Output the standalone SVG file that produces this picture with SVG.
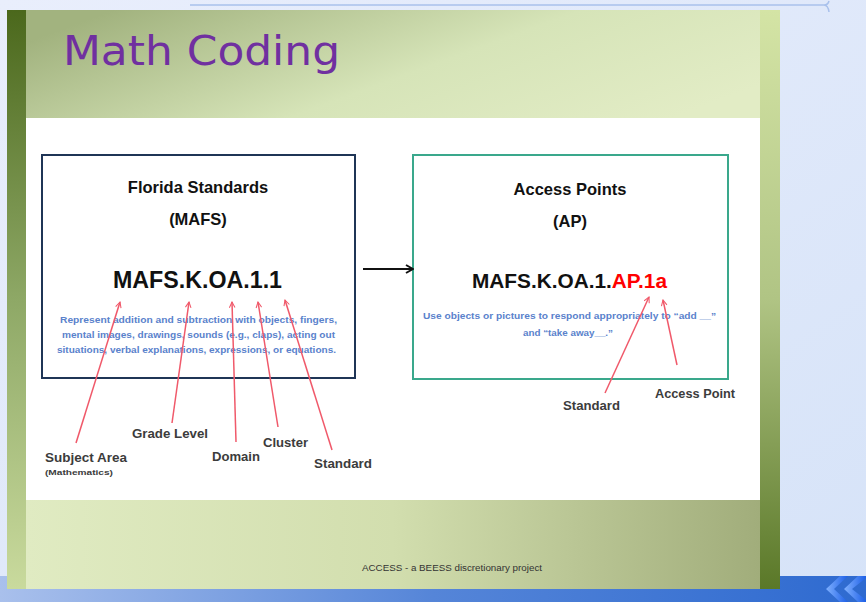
<svg xmlns="http://www.w3.org/2000/svg" width="866" height="602" viewBox="0 0 866 602">
<style>
.h{font-family:"Liberation Sans",Arial,sans-serif;font-weight:bold;fill:#111;text-anchor:middle}
.code{font-family:"Liberation Sans",Arial,sans-serif;font-weight:bold;fill:#111}
.desc{font-family:"Liberation Sans",Arial,sans-serif;font-size:9.5px;font-weight:bold;fill:#5a82cc;text-anchor:middle}
.lbl{font-family:"Liberation Sans",Arial,sans-serif;font-weight:bold;font-size:12px;fill:#3c3c3c}
.red{stroke:#f0596a;stroke-width:1.5;fill:none;marker-end:url(#rh)}
</style>
<defs>
<linearGradient id="bg" x1="0" y1="0" x2="1" y2="1">
<stop offset="0" stop-color="#e9eefc"/><stop offset="1" stop-color="#d6e3f8"/>
</linearGradient>
<linearGradient id="titleG" x1="0" y1="0.3" x2="1" y2="0.7">
<stop offset="0" stop-color="#a2b37f"/><stop offset="0.55" stop-color="#d6e4b8"/><stop offset="1" stop-color="#e2ecc5"/>
</linearGradient>
<linearGradient id="footG" x1="0" y1="0" x2="1" y2="0">
<stop offset="0" stop-color="#e0ebc2"/><stop offset="0.5" stop-color="#d2deae"/><stop offset="1" stop-color="#a1ad7b"/>
</linearGradient>
<linearGradient id="lbar" x1="0" y1="0" x2="0" y2="1">
<stop offset="0" stop-color="#4b681c"/><stop offset="0.5" stop-color="#8ea866"/><stop offset="1" stop-color="#c9da9d"/>
</linearGradient>
<linearGradient id="rbar" x1="0" y1="0" x2="0" y2="1">
<stop offset="0" stop-color="#d4e4a5"/><stop offset="0.5" stop-color="#b0c484"/><stop offset="1" stop-color="#5a7828"/>
</linearGradient>
<linearGradient id="blueG" x1="0" y1="0" x2="1" y2="0">
<stop offset="0" stop-color="#a9c0ec"/><stop offset="0.5" stop-color="#5585d8"/><stop offset="1" stop-color="#2e6ad0"/>
</linearGradient>
<linearGradient id="chev" x1="0" y1="0" x2="1" y2="0">
<stop offset="0" stop-color="#7fb0ff"/><stop offset="1" stop-color="#1d5fe6"/>
</linearGradient>
<marker id="rh" viewBox="0 0 10 10" refX="9" refY="5" markerWidth="7" markerHeight="7" orient="auto" markerUnits="userSpaceOnUse">
<path d="M1,1 L9,5 L1,9" fill="none" stroke="#f0596a" stroke-width="1.5"/>
</marker>
<marker id="bh" viewBox="0 0 10 10" refX="9" refY="5" markerWidth="10" markerHeight="10" orient="auto" markerUnits="userSpaceOnUse">
<path d="M2,1 L9,5 L2,9" fill="none" stroke="#111" stroke-width="2"/>
</marker>
</defs>

<g id="background">
<rect x="0" y="0" width="866" height="602" fill="url(#bg)"/>
<path d="M190,5 H824 Q828,5 829,1 M824,5 Q828,5 829,12" fill="none" stroke="#a9c1ec" stroke-width="1.5"/>
<rect x="0" y="576" width="866" height="26" fill="url(#blueG)"/>
<path d="M840,576 L826,589 L840,602 L848,602 L834,589 L848,576 Z" fill="url(#chev)"/>
<path d="M858,576 L844,589 L858,602 L866,602 L866,600 L852,589 L866,578 L866,576 Z" fill="url(#chev)"/>
</g>

<g id="slide">
<rect x="7" y="10" width="773" height="579" fill="#ffffff"/>
<rect x="26" y="10" width="734" height="108" fill="url(#titleG)"/>
<rect x="26" y="500" width="734" height="89" fill="url(#footG)"/>
<rect x="7" y="10" width="19" height="579" fill="url(#lbar)"/>
<rect x="760" y="10" width="20" height="579" fill="url(#rbar)"/>
<text x="63" y="65" font-family="'DejaVu Sans','Liberation Sans',sans-serif" font-size="40" fill="#7030a0" textLength="277" lengthAdjust="spacingAndGlyphs">Math Coding</text>
<text x="452" y="571" font-family="'Liberation Sans',Arial,sans-serif" font-size="8.5" fill="#333" text-anchor="middle" textLength="180" lengthAdjust="spacingAndGlyphs">ACCESS - a BEESS discretionary project</text>
</g>

<g id="mafs-box">
<rect x="42" y="155" width="313" height="223" fill="#ffffff" stroke="#1f3556" stroke-width="2"/>
<text class="h" x="198" y="193" font-size="16.5">Florida Standards</text>
<text class="h" x="198" y="225" font-size="16.5">(MAFS)</text>
<text class="code" x="113" y="288" font-size="23" textLength="169" lengthAdjust="spacingAndGlyphs">MAFS.K.OA.1.1</text>
<text class="desc" x="198.5" y="323" textLength="277" lengthAdjust="spacingAndGlyphs">Represent addition and subtraction with objects, fingers,</text>
<text class="desc" x="198.5" y="338" textLength="273" lengthAdjust="spacingAndGlyphs">mental images, drawings, sounds (e.g., claps), acting out</text>
<text class="desc" x="196.5" y="353" textLength="279" lengthAdjust="spacingAndGlyphs">situations, verbal explanations, expressions, or equations.</text>
</g>

<g id="ap-box">
<rect x="413" y="155" width="315" height="224" fill="#ffffff" stroke="#3aa88c" stroke-width="2"/>
<text class="h" x="570" y="195" font-size="16.5">Access Points</text>
<text class="h" x="570" y="227" font-size="16.5">(AP)</text>
<text class="code" x="472" y="288" font-size="21" textLength="195" lengthAdjust="spacingAndGlyphs">MAFS.K.OA.1.<tspan fill="#ff0000">AP.1a</tspan></text>
<text class="desc" x="569.5" y="319" textLength="293" lengthAdjust="spacingAndGlyphs">Use objects or pictures to respond appropriately to “add __”</text>
<text class="desc" x="568" y="336" textLength="90" lengthAdjust="spacingAndGlyphs">and “take away__.”</text>
</g>

<g id="labels">
<text class="lbl" x="45" y="462" textLength="82" lengthAdjust="spacingAndGlyphs">Subject Area</text>
<text class="lbl" x="45" y="475" textLength="68" lengthAdjust="spacingAndGlyphs" style="font-size:8px">(Mathematics)</text>
<text class="lbl" x="132" y="438" textLength="76" lengthAdjust="spacingAndGlyphs">Grade Level</text>
<text class="lbl" x="212" y="461" textLength="48" lengthAdjust="spacingAndGlyphs">Domain</text>
<text class="lbl" x="263" y="447" textLength="45" lengthAdjust="spacingAndGlyphs">Cluster</text>
<text class="lbl" x="314" y="468" textLength="58" lengthAdjust="spacingAndGlyphs">Standard</text>
<text class="lbl" x="563" y="410" textLength="57" lengthAdjust="spacingAndGlyphs">Standard</text>
<text class="lbl" x="655" y="398" textLength="80" lengthAdjust="spacingAndGlyphs">Access Point</text>
</g>

<g id="connectors">
<line x1="363" y1="269" x2="413" y2="269" stroke="#111" stroke-width="2" marker-end="url(#bh)"/>
<line class="red" x1="76" y1="443" x2="120" y2="302"/>
<line class="red" x1="172" y1="423" x2="189" y2="302"/>
<line class="red" x1="236" y1="442" x2="232" y2="302"/>
<line class="red" x1="278" y1="427" x2="258" y2="302"/>
<line class="red" x1="332" y1="450" x2="285" y2="300"/>
<line class="red" x1="605" y1="393" x2="649" y2="297"/>
<line class="red" x1="677" y1="365" x2="663" y2="300"/>
</g>
</svg>
